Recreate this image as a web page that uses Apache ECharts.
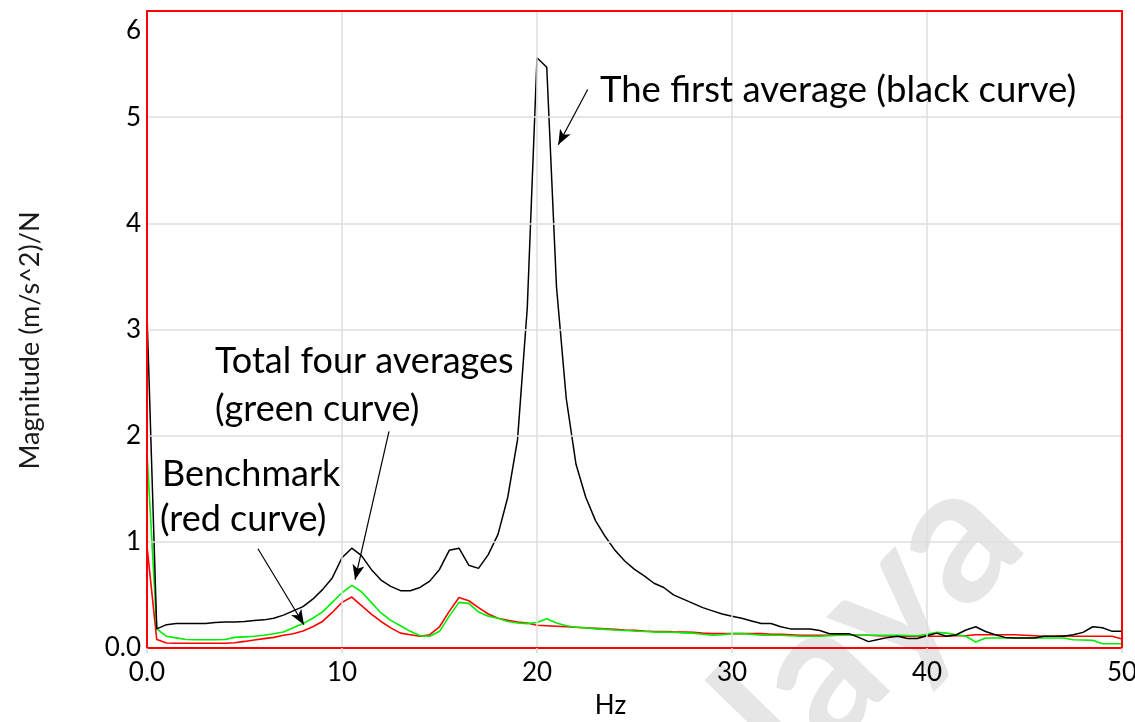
<!DOCTYPE html>
<html>
<head>
<meta charset="utf-8">
<script src="https://cdn.jsdelivr.net/npm/echarts@6/dist/echarts.min.js"></script>
<style>
html,body{margin:0;padding:0;background:#fff;}
#chart{width:1135px;height:722px;}
</style>
</head>
<body>
<div id="chart"></div>
<script>
// Frequency resolution (Hz) of the spectra
const freqStep = 0.5;
const xTicks = [0, 10, 20, 30, 40, 50];
const yTicks = [0, 1, 2, 3, 4, 5, 6];

// The first average (black curve)
const firstAverage = [
  3.15,0.18,0.22,0.23,0.23,0.23,0.23,0.24,0.245,0.245,
  0.25,0.26,0.265,0.28,0.31,0.35,0.39,0.46,0.55,0.66,
  0.85,0.94,0.87,0.74,0.64,0.58,0.54,0.54,0.57,0.63,
  0.74,0.92,0.94,0.78,0.75,0.88,1.07,1.42,1.96,3.2,
  5.56,5.47,3.4,2.35,1.73,1.42,1.2,1.05,0.92,0.82,
  0.74,0.68,0.61,0.57,0.50,0.46,0.42,0.38,0.35,0.32,
  0.30,0.28,0.255,0.23,0.23,0.20,0.18,0.18,0.18,0.165,
  0.135,0.135,0.135,0.10,0.06,0.08,0.10,0.11,0.09,0.09,
  0.115,0.14,0.11,0.125,0.17,0.20,0.155,0.125,0.10,0.094,
  0.094,0.095,0.11,0.11,0.11,0.125,0.147,0.20,0.19,0.157,
  0.157
];

// Benchmark (red curve)
const benchmark = [
  0.96,0.08,0.047,0.045,0.045,0.045,0.045,0.045,0.045,0.05,
  0.062,0.075,0.088,0.10,0.12,0.135,0.16,0.20,0.25,0.335,
  0.43,0.48,0.40,0.32,0.25,0.19,0.14,0.125,0.11,0.125,
  0.20,0.345,0.475,0.445,0.38,0.32,0.28,0.26,0.245,0.235,
  0.215,0.21,0.205,0.20,0.195,0.19,0.185,0.18,0.175,0.17,
  0.166,0.16,0.156,0.155,0.152,0.15,0.147,0.14,0.135,0.135,
  0.135,0.135,0.135,0.135,0.13,0.13,0.125,0.12,0.12,0.12,
  0.12,0.125,0.125,0.12,0.12,0.115,0.115,0.11,0.11,0.11,
  0.11,0.11,0.11,0.115,0.115,0.125,0.125,0.125,0.125,0.125,
  0.12,0.115,0.11,0.11,0.115,0.11,0.11,0.11,0.11,0.11,
  0.085
];

// Total four averages (green curve)
const fourAverages = [
  1.84,0.18,0.11,0.095,0.08,0.078,0.078,0.078,0.08,0.10,
  0.105,0.11,0.12,0.135,0.15,0.19,0.23,0.28,0.34,0.43,
  0.52,0.59,0.53,0.43,0.33,0.26,0.21,0.157,0.116,0.11,
  0.157,0.30,0.43,0.42,0.34,0.30,0.28,0.25,0.235,0.23,
  0.24,0.275,0.235,0.21,0.195,0.19,0.18,0.175,0.17,0.165,
  0.16,0.156,0.15,0.15,0.148,0.142,0.14,0.13,0.12,0.125,
  0.135,0.135,0.13,0.12,0.12,0.12,0.115,0.11,0.11,0.11,
  0.115,0.12,0.125,0.12,0.12,0.12,0.12,0.12,0.118,0.116,
  0.13,0.147,0.14,0.125,0.11,0.056,0.094,0.094,0.094,0.094,
  0.094,0.094,0.094,0.094,0.094,0.078,0.075,0.072,0.04,0.04,
  0.04
];

// Annotation arrows in data coordinates: [fromX, fromY, toX, toY]
const arrowBlack = [22.6, 5.26, 21.09, 4.74];
const arrowGreen = [12.41, 2.04, 10.67, 0.643];
const arrowRed = [5.69, 0.935, 8.05, 0.219];

const pairs = vals => vals.map((v, i) => [i * freqStep, v]);
const FONT = 'Lato';
const RED = '#ff0000';

const chart = echarts.init(document.getElementById('chart'));
const arrowItem = a => [{coord: [a[0], a[1]], symbol: 'none'}, {coord: [a[2], a[3]], symbol: 'arrow', symbolSize: [9, 15]}];
const xMin = xTicks[0], xMax = xTicks[xTicks.length - 1];
const yMin = yTicks[0], yMax = yTicks[yTicks.length - 1];

chart.setOption({
  animation: false,
  backgroundColor: '#fff',
  grid: {left: 147, right: 13, top: 11, bottom: 74, containLabel: false, outerBoundsMode: 'none'},
  xAxis: [{
    type: 'value', min: xMin, max: xMax, interval: 10,
    name: 'Hz', nameLocation: 'middle', nameGap: 45,
    nameTextStyle: {fontFamily: FONT, fontSize: 26, color: '#000', padding: [0, 48, 0, 0]},
    axisLine: {show: true, onZero: false, lineStyle: {color: RED, width: 2}},
    axisTick: {show: true, length: 5, lineStyle: {color: '#d8d8d8', width: 1.5}},
    axisLabel: {fontFamily: FONT, fontSize: 26, color: '#000', margin: 12,
      formatter: v => v === 0 ? '0.0' : String(v)},
    splitLine: {show: true, lineStyle: {color: '#dedede', width: 1.5}},
    z: 5
  }, {
    type: 'value', position: 'top', min: xMin, max: xMax, interval: 10,
    axisLine: {show: true, onZero: false, lineStyle: {color: RED, width: 2}},
    axisTick: {show: false}, axisLabel: {show: false}, splitLine: {show: false}, z: 5
  }],
  yAxis: [{
    type: 'value', min: yMin, max: yMax, interval: 1,
    name: 'Magnitude (m/s^2)/N', nameLocation: 'middle', nameGap: 103,
    nameTextStyle: {fontFamily: FONT, fontSize: 27, color: '#1a1a1a', padding: [0, 22, 0, 0]},
    axisLine: {show: true, onZero: false, lineStyle: {color: RED, width: 2}},
    axisTick: {show: false},
    axisLabel: {fontFamily: FONT, fontSize: 26, color: '#000', margin: 6,
      formatter: v => v === 0 ? '0.0' : (v === 6 ? '{top|6}' : String(v)),
      rich: {top: {fontFamily: FONT, fontSize: 26, color: '#000', padding: [40, 0, 0, 0]}}},
    splitLine: {show: true, lineStyle: {color: '#dedede', width: 1.5}},
    z: 5
  }, {
    type: 'value', position: 'right', min: yMin, max: yMax, interval: 1,
    axisLine: {show: true, onZero: false, lineStyle: {color: RED, width: 2}},
    axisTick: {show: false}, axisLabel: {show: false}, splitLine: {show: false}, z: 5
  }],
  graphic: [
    {type: 'text', x: 775, y: 722, rotation: 0.8, z: -10, silent: true,
      style: {text: 'Malaya', fontFamily: FONT, fontWeight: 'bold', fontSize: 190, fill: '#e6e6e6', align: 'center', verticalAlign: 'middle'}},
    {type: 'text', x: 600, y: 90, z: 10, style: {text: 'The first average (black curve)', fontFamily: FONT, fontSize: 36.5, fill: '#000', verticalAlign: 'middle'}},
    {type: 'text', x: 215, y: 361, z: 10, style: {text: 'Total four averages', fontFamily: FONT, fontSize: 36, fill: '#000', verticalAlign: 'middle'}},
    {type: 'text', x: 215, y: 409, z: 10, style: {text: '(green curve)', fontFamily: FONT, fontSize: 36, fill: '#000', verticalAlign: 'middle'}},
    {type: 'text', x: 162, y: 474, z: 10, style: {text: 'Benchmark', fontFamily: FONT, fontSize: 36, fill: '#000', verticalAlign: 'middle'}},
    {type: 'text', x: 160, y: 519, z: 10, style: {text: '(red curve)', fontFamily: FONT, fontSize: 36, fill: '#000', verticalAlign: 'middle'}}
  ],
  series: [
    {type: 'line', name: 'Benchmark', data: pairs(benchmark), showSymbol: false, silent: true,
      lineStyle: {color: RED, width: 1.6}, z: 2},
    {type: 'line', name: 'Total four averages', data: pairs(fourAverages), showSymbol: false, silent: true,
      lineStyle: {color: '#00ee00', width: 1.6}, z: 3},
    {type: 'line', name: 'The first average', data: pairs(firstAverage), showSymbol: false, silent: true,
      lineStyle: {color: '#000000', width: 1.5}, z: 4,
      markLine: {silent: true, animation: false, label: {show: false},
        lineStyle: {color: '#000', width: 1.2, type: 'solid'},
        emphasis: {disabled: true},
        data: [arrowItem(arrowBlack), arrowItem(arrowGreen), arrowItem(arrowRed)]}}
  ]
});
</script>
</body>
</html>
